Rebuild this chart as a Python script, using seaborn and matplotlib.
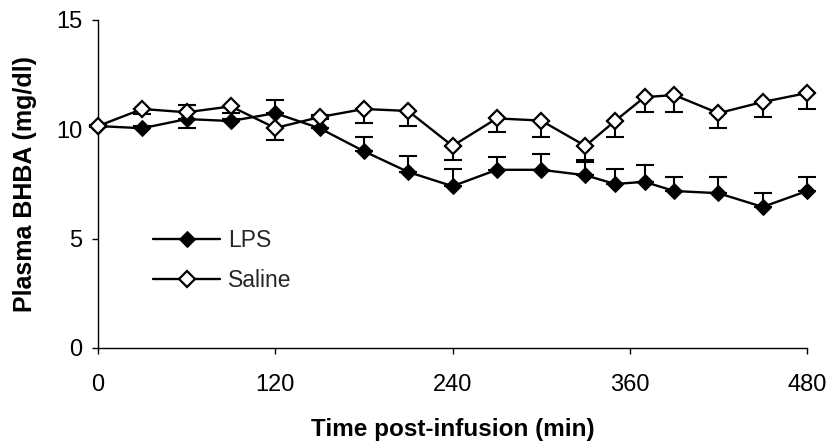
import numpy as np
import pandas as pd
import matplotlib
matplotlib.use("Agg")
import matplotlib.pyplot as plt
import seaborn as sns

# ---- data ----
times = [0, 30, 60, 90, 120, 150, 180, 210, 240, 270, 300, 330, 350, 370, 390, 420, 450, 480]
lps = [10.15, 10.05, 10.47, 10.38, 10.74, 10.05, 9.0, 8.05, 7.4, 8.15, 8.15, 7.9,
       7.5, 7.6, 7.18, 7.08, 6.45, 7.18]
saline = [10.15, 10.93, 10.78, 11.05, 10.06, 10.56, 10.93, 10.84, 9.24, 10.5, 10.4, 9.24,
          10.38, 11.47, 11.57, 10.74, 11.25, 11.66]
lps_err = [0.05, 0.1, 0.65, 0.1, 0.6, 0.6, 0.65, 0.73, 0.78, 0.6, 0.7, 0.6,
           0.68, 0.77, 0.64, 0.74, 0.63, 0.64]
saline_err = [0.05, 0.23, 0.7, 0.3, 0.56, 0.1, 0.64, 0.69, 0.64, 0.64, 0.75, 0.64,
              0.73, 0.67, 0.77, 0.68, 0.69, 0.73]
x_ticks = [0, 120, 240, 360, 480]
y_ticks = [0, 5, 10, 15]
x_label = "Time post-infusion (min)"
y_label = "Plasma BHBA (mg/dl)"

sns.set_style("ticks")
plt.rcParams["font.family"] = ["Liberation Sans", "DejaVu Sans"]

fig = plt.figure(figsize=(8.26, 4.46), dpi=100)
ax = fig.add_axes([98 / 826, 1 - 348 / 446, 709 / 826, 328 / 446])

zeros = np.zeros(len(times))
ax.errorbar(times, lps, yerr=[zeros, lps_err], fmt="none", ecolor="black",
            elinewidth=1.5, capsize=6.5, capthick=1.5, zorder=1, clip_on=False)
ax.errorbar(times, saline, yerr=[saline_err, zeros], fmt="none", ecolor="black",
            elinewidth=1.5, capsize=6.5, capthick=1.5, zorder=1, clip_on=False)

sns.lineplot(x=times, y=lps, ax=ax, color="black", linewidth=1.7, marker="D",
             markersize=8.3, markerfacecolor="black", markeredgecolor="black",
             label="LPS", clip_on=False, zorder=3)
sns.lineplot(x=times, y=saline, ax=ax, color="black", linewidth=1.7, marker="D",
             markersize=7.8, markerfacecolor="white", markeredgecolor="black",
             markeredgewidth=1.6, label="Saline", clip_on=False, zorder=3)

ax.set_xlim(0, 480)
ax.set_ylim(0, 15)
ax.set_xticks(x_ticks)
ax.set_yticks(y_ticks)
ax.tick_params(axis="both", direction="out", length=4.5, width=1, color="black",
               labelsize=17, labelcolor="black")
ax.tick_params(axis="x", pad=14)
ax.tick_params(axis="y", pad=7)
for side in ["top", "right"]:
    ax.spines[side].set_visible(False)
for side in ["left", "bottom"]:
    ax.spines[side].set_color("black")
    ax.spines[side].set_linewidth(1)

ax.set_xlabel(x_label, fontsize=17.5, fontweight="bold", color="black")
ax.set_ylabel(y_label, fontsize=18, fontweight="bold", color="black")
ax.xaxis.set_label_coords(0.5, -0.212)
ax.xaxis.label.set_va("top")
ax.yaxis.set_label_coords(-0.086, 0.5)

leg = ax.legend(loc="upper left", bbox_to_anchor=(0.078, 0.362), frameon=False,
                fontsize=16.5, handlelength=2.9, handletextpad=0.35,
                labelspacing=0.75, borderpad=0, borderaxespad=0)

fig.savefig("out.png", dpi=100, facecolor="white")
